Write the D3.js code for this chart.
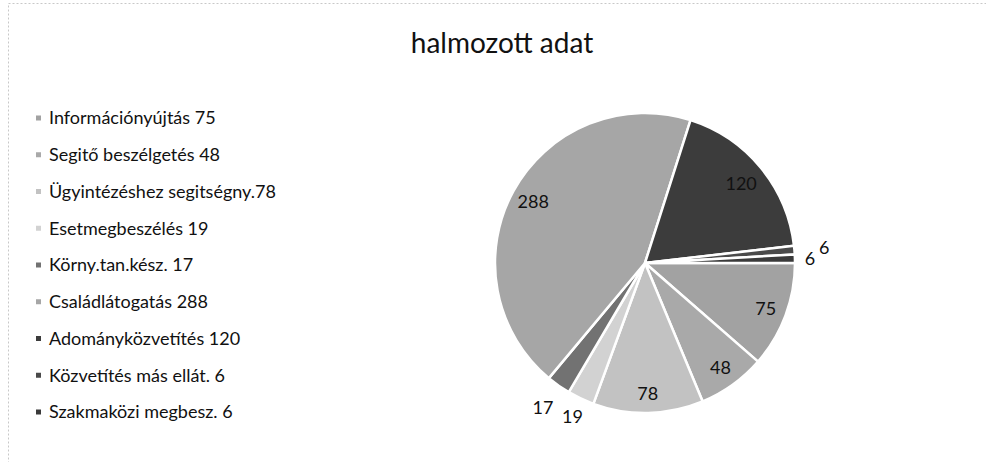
<!DOCTYPE html>
<html>
<head>
<meta charset="utf-8">
<script src="https://cdn.jsdelivr.net/npm/d3@7"></script>
<style>
  body { margin: 0; background: #fff; }
  svg { display: block; font-family: Lato, "Open Sans", sans-serif; }
</style>
</head>
<body>
<div id="chart"></div>
<script>
// data
const categories = ["Információnyújtás", "Segítő beszélgetés", "Ügyintézéshez segitségny.",
  "Esetmegbeszélés", "Körny.tan.kész.", "Családlátogatás", "Adományközvetítés",
  "Közvetítés más ellát.", "Szakmaközi megbesz."];
const legendNames = ["Információnyújtás 75", "Segitő beszélgetés 48", "Ügyintézéshez segitségny.78",
  "Esetmegbeszélés 19", "Körny.tan.kész. 17", "Családlátogatás 288", "Adományközvetítés 120",
  "Közvetítés más ellát. 6", "Szakmaközi megbesz. 6"];
const values = [75, 48, 78, 19, 17, 288, 120, 6, 6];
const greys = ["#a2a2a2", "#a9a9a9", "#c2c2c2", "#d2d2d2", "#727272", "#a6a6a6", "#3c3c3c", "#4a4a4a", "#3a3a3a"];

// layout
const w = 986, h = 462;
const cx = 645, cy = 263, r = 150;
// distance of each label from centre, as share of radius (Excel best fit)
const labelPos = [0.86, 0.86, 0.87, 1.13, 1.18, 0.85, 0.83, 1.2, 1.1];

const svg = d3.select("#chart").append("svg")
  .attr("width", w)
  .attr("height", h);

// faint scanned frame
svg.append("rect")
  .attr("x", 8.5).attr("y", 3.5)
  .attr("width", w + 10).attr("height", h + 10)
  .attr("fill", "none")
  .attr("stroke", "#c8c8c8")
  .attr("stroke-dasharray", "2,2");

svg.append("text")
  .attr("x", 502)
  .attr("y", 53)
  .attr("text-anchor", "middle")
  .attr("font-size", 28)
  .attr("fill", "#111")
  .text("halmozott adat");

// pie
const pie = d3.pie()
  .sort(null)
  .value(d => d)
  .startAngle(Math.PI / 2)
  .endAngle(Math.PI / 2 + 2 * Math.PI);

const arcs = pie(values);
const arc = d3.arc().innerRadius(0).outerRadius(r);

const g = svg.append("g").attr("transform", "translate(" + cx + "," + cy + ")");

g.selectAll("path")
  .data(arcs)
  .enter()
  .append("path")
  .attr("d", arc)
  .attr("fill", (d, i) => greys[i])
  .attr("stroke", "#fff")
  .attr("stroke-width", 2.5)
  .attr("stroke-linejoin", "round");

g.selectAll("text")
  .data(arcs)
  .enter()
  .append("text")
  .attr("transform", (d, i) => {
    const a = (d.startAngle + d.endAngle) / 2;
    const k = labelPos[i] * r;
    return "translate(" + (Math.sin(a) * k) + "," + (-Math.cos(a) * k) + ")";
  })
  .attr("text-anchor", "middle")
  .attr("dy", "0.35em")
  .attr("font-size", 18)
  .attr("fill", "#111")
  .text(d => d.value);

// legend
const y = d3.scalePoint()
  .domain(d3.range(values.length))
  .range([118, 412]);

const legend = svg.append("g");

legend.selectAll("rect")
  .data(legendNames)
  .enter()
  .append("rect")
  .attr("x", 36)
  .attr("y", (d, i) => y(i) - 2.5)
  .attr("width", 5)
  .attr("height", 5)
  .attr("fill", (d, i) => greys[i]);

legend.selectAll("text")
  .data(legendNames)
  .enter()
  .append("text")
  .attr("x", 49)
  .attr("y", (d, i) => y(i))
  .attr("dy", "0.35em")
  .attr("font-size", 18)
  .attr("fill", "#111")
  .text(d => d);
</script>
</body>
</html>
